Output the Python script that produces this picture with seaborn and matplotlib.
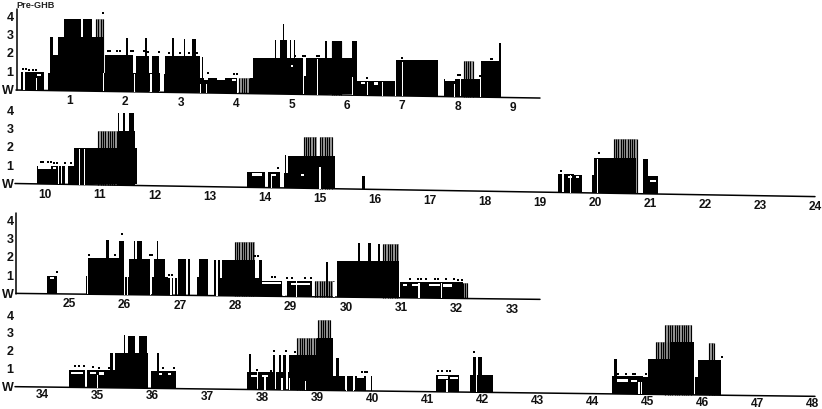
import matplotlib
matplotlib.use('Agg')
import matplotlib.pyplot as plt
import numpy as np
import seaborn as sns

sns.set_theme(style='white')
plt.rcParams['font.family'] = ['Liberation Sans', 'DejaVu Sans']

stage_labels = ['W', '1', '2', '3', '4']

# row 1, hours 0-9
r1_hours = [1, 2, 3, 4, 5, 6, 7, 8, 9]
r1_start = [0.11, 0.60, 0.63, 0.64, 0.79, 0.89, 1.24, 1.47, 1.63, 1.63, 2.19, 2.48, 2.01, 2.36, 2.69, 2.72, 2.84, 3.05, 3.20, 3.34, 3.38,
            4.25, 4.30, 4.70, 4.80, 4.84, 4.98, 5.04, 5.20, 5.27, 5.61, 5.73, 6.09, 6.19, 6.89, 7.75, 8.07, 8.42, 8.42, 8.75]
r1_end = [0.53, 1.63, 1.60, 0.70, 1.60, 1.19, 1.39, 1.61, 2.63, 2.14, 2.43, 2.60, 2.05, 2.39, 3.34, 3.34, 2.87, 3.08, 3.27, 4.01, 3.40,
          4.30, 5.20, 4.72, 4.92, 4.86, 4.99, 5.07, 5.27, 6.19, 5.64, 5.91, 6.18, 6.87, 7.64, 8.05, 8.40, 8.79, 8.79, 8.78]
r1_level = [1, 1, 2, 3, 3, 4, 4, 3, 1, 2, 2, 2, 3, 3, 1, 2, 3, 3, 3, 0.85, 2,
            0.85, 2, 3, 3, 3.9, 3, 3, 1, 2, 3, 3, 3, 0.8, 2, 1, 1, 1, 2, 3]
r1_stripe_start = [1.47, 4.06, 5.73, 6.45, 8.11]
r1_stripe_end = [1.61, 4.25, 5.91, 6.87, 8.28]
r1_stripe_level = [4, 0.85, 3, 0.8, 2]
r1_slit = [0.17, 0.40, 1.60, 2.17, 2.46, 3.36, 3.47, 4.03, 5.22, 5.47, 6.10, 6.38, 6.64, 6.88, 7.0, 7.95, 8.41]
r1_slit_top = [1, 0.7, 1, 1, 1, 0.5, 0.5, 0.85, 1, 2, 1, 0.75, 0.75, 1, 1.9, 0.7, 1]
r1_dash_start = [0.41, 3.42, 3.65, 3.92, 5.0, 6.25, 6.5, 7.78]
r1_dash_end = [0.48, 3.5, 3.8, 3.99, 5.03, 6.33, 6.56, 7.95]
r1_dash_level = [0.8, 0.7, 0.7, 0.7, 1.5, 0.6, 0.6, 0.85]
r1_dot_x = [0.15, 0.2, 0.25, 0.33, 0.38, 1.68, 1.72, 1.85, 1.9, 2.1, 2.14, 2.34, 2.4, 2.6, 2.79, 2.99, 3.15, 3.3, 1.6, 3.5, 3.97, 4.01,
            5.07, 5.2, 5.25, 5.46, 5.5, 6.36, 7.0, 8.0, 8.05, 8.4, 8.6, 8.63]
r1_dot_y = [1.15, 1.15, 1.15, 1.15, 1.15, 2.25, 2.25, 2.25, 2.25, 2.25, 2.25, 2.25, 2.25, 2.25, 2.2, 2.2, 2.2, 2.2, 4.35, 1.1, 1.05, 1.05,
            2.15, 2.15, 2.15, 2.15, 2.15, 0.95, 2.1, 1.2, 1.2, 1.2, 2.15, 2.15]

# row 2, hours 10-24
r2_hours = list(range(10, 25))
r2_start = [9.85, 10.30, 10.42, 10.53, 11.35, 11.33, 11.42, 11.53, 13.68, 14.06, 14.35, 14.37, 14.42, 14.42, 15.77,
            19.32, 19.62, 19.94, 19.99, 20.87, 20.88]
r2_end = [10.29, 10.36, 11.68, 11.68, 11.64, 11.35, 11.46, 11.61, 14.0, 14.27, 14.41, 14.39, 15.27, 15.27, 15.82,
          19.61, 19.76, 20.75, 20.75, 21.14, 20.96]
r2_level = [1, 1, 1, 2, 3, 4, 4, 4, 0.85, 0.85, 0.85, 1.85, 1, 1.8, 0.75,
            1, 1, 1, 1.95, 1, 1.95]
r2_stripe_start = [10.97, 14.70, 15.00, 20.34]
r2_stripe_end = [11.35, 14.94, 15.24, 20.76]
r2_stripe_level = [3, 2.85, 2.85, 3]
r2_slit = [10.24, 10.63, 10.72, 14.12, 15.0, 19.42, 19.55, 20.05]
r2_slit_top = [1, 2, 2, 0.7, 1.2, 1, 1, 1.9]
r2_dash_start = [9.87, 10.15, 13.76, 14.1, 14.65, 19.5, 19.66, 21.0]
r2_dash_end = [10.1, 10.2, 13.95, 14.2, 14.7, 19.58, 19.7, 21.1]
r2_dash_level = [0.85, 0.85, 0.65, 0.65, 0.65, 0.8, 0.8, 0.65]
r2_dot_x = [9.92, 9.97, 10.05, 10.1, 10.17, 10.22, 10.36, 10.48, 14.23, 19.39, 20.07]
r2_dot_y = [1.2, 1.2, 1.2, 1.2, 1.2, 1.2, 1.2, 1.2, 1.1, 1.2, 2.25]

# row 3, hours 25-33
r3_hours = list(range(25, 34))
r3_start = [24.60, 25.30, 25.34, 25.66, 25.90, 25.99, 26.08, 26.17, 26.22, 26.49, 26.53, 26.58, 26.79, 26.91, 26.97, 27.14, 27.30, 27.35,
            27.61, 27.69, 27.66, 27.75, 28.36, 28.42, 28.48, 28.93, 29.63, 29.83, 30.22, 30.39, 30.58, 30.98]
r3_end = [24.77, 25.98, 25.98, 25.71, 25.98, 26.07, 26.46, 26.19, 26.31, 26.79, 26.73, 26.61, 26.88, 26.95, 27.11, 27.18, 27.35, 27.51,
          27.66, 27.72, 27.75, 28.36, 28.48, 28.48, 28.84, 29.38, 29.68, 30.95, 30.25, 30.45, 30.61, 32.11]
r3_level = [1, 1, 2, 3, 3, 1, 2, 3, 3, 1, 2, 3, 0.95, 0.95, 2, 2, 1, 2,
            2, 2, 1, 2, 1, 2, 0.85, 0.85, 1.95, 2, 3, 3, 3, 0.85]
r3_stripe_start = [27.99, 29.44, 30.67, 32.11]
r3_stripe_end = [28.36, 29.80, 30.95, 32.20]
r3_stripe_level = [3, 0.85, 3, 0.85]
r3_slit = [25.33, 26.0, 26.05, 26.47, 26.84, 27.67, 28.88, 29.1, 29.78, 31.32, 31.72]
r3_slit_top = [2, 1, 1, 2, 0.95, 2, 0.85, 0.85, 0.85, 0.85, 0.85]
r3_dash_start = [24.65, 28.48, 29.0, 31.02, 31.2, 31.5, 31.75]
r3_dash_end = [24.72, 28.82, 29.35, 31.1, 31.32, 31.7, 31.92]
r3_dash_level = [0.8, 0.65, 0.65, 0.65, 0.65, 0.65, 0.65]
r3_dot_x = [24.77, 25.35, 25.82, 25.95, 26.45, 26.49, 26.8, 26.86, 28.35, 28.41, 28.67, 28.72, 28.93, 29.03, 29.25, 29.36, 31.15,
            31.3, 31.35, 31.45, 31.6, 31.66, 31.8, 31.95, 32.02, 32.1]
r3_dot_y = [1.2, 2.2, 2.2, 3.35, 2.2, 2.2, 1.1, 1.1, 2.25, 2.25, 1.1, 1.1, 1.05, 1.05, 1.05, 1.05, 1.05,
            1.05, 1.05, 1.05, 1.05, 1.05, 1.05, 1.05, 1.05, 1.05]

# row 4, hours 34-48
r4_hours = list(range(34, 49))
r4_start = [34.49, 34.81, 35.23, 35.23, 35.32, 35.32, 35.48, 35.56, 35.76, 35.98, 36.09,
            37.75, 37.73, 37.93, 38.19, 38.25, 38.31, 38.38, 38.46, 38.49, 38.62, 39.0,
            39.29, 39.34, 39.53, 39.68, 39.97, 41.16, 41.78, 41.84, 41.93,
            44.36, 44.39, 44.92, 45.01, 45.43, 45.87, 45.93]
r4_end = [34.78, 35.23, 35.32, 35.29, 35.93, 35.93, 35.51, 35.68, 35.90, 36.44, 36.13,
          37.79, 37.90, 38.20, 38.23, 38.44, 38.34, 38.44, 38.62, 38.61, 39.29, 39.29,
          39.50, 39.40, 39.65, 39.88, 40.0, 41.58, 42.19, 41.89, 41.99,
          44.92, 44.45, 45.01, 45.85, 45.85, 45.93, 46.34]
r4_level = [1, 1, 1, 2, 1, 2, 3, 3, 3, 1, 2,
            2, 1, 1, 2, 1, 2, 2, 1, 2, 2, 3,
            0.85, 1.85, 0.85, 0.85, 0.85, 0.95, 1, 2, 2,
            1, 2, 1, 2, 3, 1, 2]
r4_stripe_start = [38.64, 39.02, 45.16, 45.33, 46.13]
r4_stripe_end = [38.99, 39.25, 45.43, 45.82, 46.22]
r4_stripe_level = [3, 4, 3, 4, 3]
r4_slit = [35.0, 38.05, 38.36, 38.5, 38.78, 39.53, 39.66, 41.36, 41.9, 44.9, 44.85]
r4_slit_top = [0.7, 0.7, 0.7, 0.7, 0.5, 0.85, 0.85, 0.7, 1.9, 0.7, 0.7]
r4_dash_start = [34.52, 34.86, 35.03, 36.12, 36.28, 37.8, 38.0, 39.72, 41.2, 41.42, 44.45, 44.7]
r4_dash_end = [34.74, 34.98, 35.12, 36.18, 36.34, 37.9, 38.1, 39.85, 41.38, 41.55, 44.65, 44.82]
r4_dash_level = [0.75, 0.75, 0.75, 0.75, 0.75, 0.7, 0.7, 0.75, 0.75, 0.75, 0.7, 0.7]
r4_dot_x = [34.6, 34.67, 34.75, 34.92, 35.03, 35.22, 36.2, 36.4, 37.9, 38.15, 38.22, 38.43, 38.6, 39.82, 39.86, 39.9,
            41.2, 41.27, 41.35, 41.42, 44.47, 44.62, 44.74, 44.78, 44.98, 46.35, 41.85]
r4_dot_y = [1.2, 1.2, 1.2, 1.15, 1.15, 1.15, 1.15, 1.15, 1.1, 1.1, 2.2, 2.2, 2.2, 1.1, 1.1, 1.1,
            1.2, 1.2, 1.2, 1.2, 1.15, 1.15, 1.15, 1.15, 1.15, 2.2, 2.3]


def draw_row(hours, start, end, level, s_start, s_end, s_level, slit, slit_top, d_start, d_end, d_level, dot_x, dot_y,
             px0, py0, hour0, pxh, pxl, tilt, line_px, spine, label_gap):
    ax = fig.add_axes([0, 0, 1, 1], facecolor='none')
    ax.set_xlim(hour0 - px0 / pxh, hour0 + (W - px0) / pxh)
    ax.set_ylim(-(H - py0) / pxl, py0 / pxl)
    ax.axis('off')
    px2h = lambda p: hour0 + (p - px0) / pxh
    base = lambda h: -tilt * (np.asarray(h, dtype=float) - hour0)

    start, end, level = map(np.array, (start, end, level))
    order = np.argsort(level)
    ax.bar(start[order], level[order], (end - start)[order], bottom=base(start[order]), align='edge', color='black', linewidth=0, zorder=2)

    # striped stretches: grey block with close black lines
    ax.bar(s_start, s_level, np.array(s_end) - np.array(s_start), bottom=base(s_start), align='edge', color='#a0a0a0', linewidth=0, zorder=1.5)
    for a, b, lv in zip(s_start, s_end, s_level):
        xs = np.arange(a, b, 2.3 / pxh)
        ax.vlines(xs, base(a), base(a) + lv, color='black', lw=0.85, zorder=1.6)

    slit = np.array(slit)
    ax.bar(slit, slit_top, 1.3 / pxh, bottom=base(slit), color='white', linewidth=0, zorder=3)

    d_start, d_end, d_level = map(np.array, (d_start, d_end, d_level))
    ax.bar(d_start, 2.2 / pxl, d_end - d_start, bottom=base(d_start) + d_level, align='edge', color='white', linewidth=0, zorder=3)

    sns.scatterplot(x=dot_x, y=np.array(dot_y) + base(dot_x), ax=ax, color='black', s=3.5, marker='s', linewidth=0, zorder=4)

    line_x = [px2h(line_px[0]), px2h(line_px[1])]
    sns.lineplot(x=line_x, y=base(line_x), ax=ax, color='black', lw=1.1, zorder=2)

    for h in hours:
        ax.text(h, base(h) - label_gap / pxl, str(h), ha='center', va='center', fontsize=8.6, fontweight='bold', color='#111111',
                stretch='condensed')
    for i, lab in enumerate(stage_labels):
        ax.text(px2h(10 if lab != 'W' else 8), i * 1.02, lab, ha='center', va='center', fontsize=9, fontweight='bold', color='#111111')
    if spine:
        ax.plot([px2h(16.5), px2h(16.5)], [0, 4.5], color='black', lw=1.1)


W, H = 822, 410
fig = plt.figure(figsize=(W / 100, H / 100), dpi=100, facecolor='white')

draw_row(r1_hours, r1_start, r1_end, r1_level, r1_stripe_start, r1_stripe_end, r1_stripe_level, r1_slit, r1_slit_top,
         r1_dash_start, r1_dash_end, r1_dash_level, r1_dot_x, r1_dot_y, 14.7, 91, 0, 55.35, 18, 0.047, (16, 540), True, 9.5)
draw_row(r2_hours, r2_start, r2_end, r2_level, r2_stripe_start, r2_stripe_end, r2_stripe_level, r2_slit, r2_slit_top,
         r2_dash_start, r2_dash_end, r2_dash_level, r2_dot_x, r2_dot_y, 45, 185, 10, 55, 18, 0.05, (15, 815), False, 9.5)
draw_row(r3_hours, r3_start, r3_end, r3_level, r3_stripe_start, r3_stripe_end, r3_stripe_level, r3_slit, r3_slit_top,
         r3_dash_start, r3_dash_end, r3_dash_level, r3_dot_x, r3_dot_y, 69.3, 295, 25, 55.35, 18, 0.035, (16, 540), True, 9.5)
draw_row(r4_hours, r4_start, r4_end, r4_level, r4_stripe_start, r4_stripe_end, r4_stripe_level, r4_slit, r4_slit_top,
         r4_dash_start, r4_dash_end, r4_dash_level, r4_dot_x, r4_dot_y, 42.3, 388, 34, 55, 17.5, 0.038, (15, 815), False, 7)

fig.text(16 / W, 1 - 5.5 / H, 'Pre-GHB', fontsize=6.6, fontweight='bold', color='#222222', ha='left', va='center')

fig.savefig('out.png', dpi=100)
